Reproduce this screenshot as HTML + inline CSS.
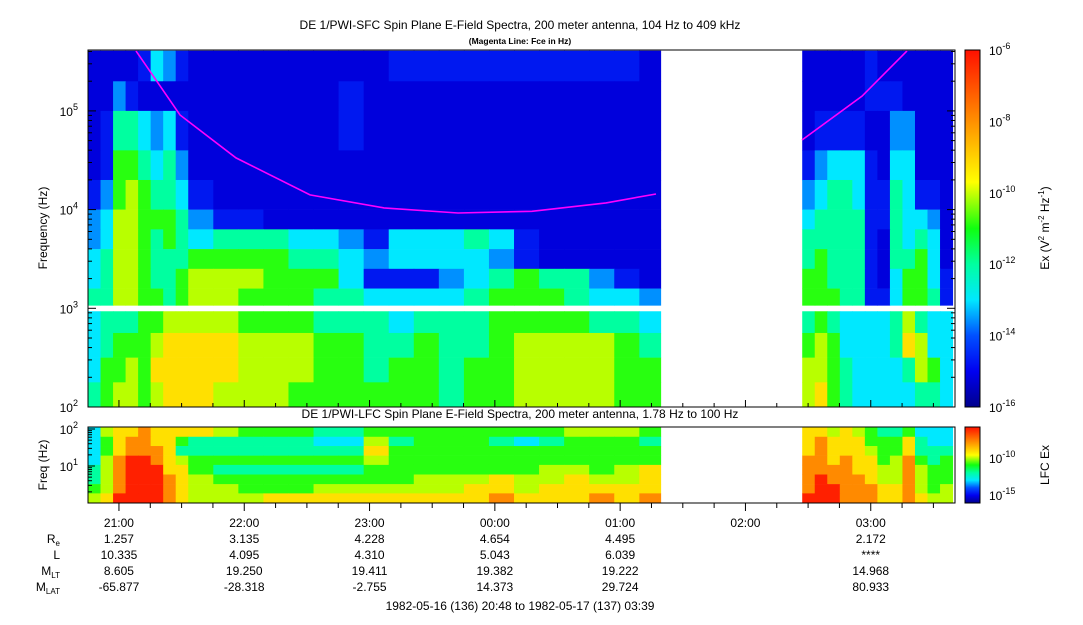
<!DOCTYPE html>
<html><head><meta charset="utf-8"><style>
html,body{margin:0;padding:0;background:#fff;}
body{width:1083px;height:620px;overflow:hidden;font-family:"Liberation Sans",sans-serif;}
svg text{font-family:"Liberation Sans",sans-serif;fill:#000;}
</style></head><body>
<svg id="chart" width="1083" height="620" viewBox="0 0 1083 620" xmlns="http://www.w3.org/2000/svg">
<defs>
<linearGradient id="cbTop" x1="0" y1="1" x2="0" y2="0">
<stop offset="0" stop-color="#00008c"/><stop offset="0.1" stop-color="#0000f0"/><stop offset="0.2" stop-color="#0050ff"/>
<stop offset="0.3" stop-color="#00e8ff"/><stop offset="0.4" stop-color="#00ffa0"/><stop offset="0.5" stop-color="#10ff10"/>
<stop offset="0.63" stop-color="#ffff00"/><stop offset="0.8" stop-color="#ff9000"/><stop offset="1" stop-color="#ff1000"/>
</linearGradient>
</defs>
<g id="sfc"></g>
<g id="lfc"></g>
<g id="axes"></g>
<text x="520" y="29" font-size="12" text-anchor="middle">DE 1/PWI-SFC  Spin Plane E-Field Spectra, 200 meter antenna, 104 Hz to 409 kHz</text>
<text x="520" y="44" font-size="8.5" font-weight="bold" text-anchor="middle">(Magenta Line: Fce in Hz)</text>
<text x="520" y="418" font-size="12" text-anchor="middle">DE 1/PWI-LFC  Spin Plane E-Field Spectra, 200 meter antenna, 1.78 Hz to 100 Hz</text>
<text transform="translate(47,228) rotate(-90)" font-size="12" text-anchor="middle">Frequency (Hz)</text>
<text transform="translate(47,465) rotate(-90)" font-size="12" text-anchor="middle">Freq (Hz)</text>
<text transform="translate(1049,228) rotate(-90)" font-size="12" text-anchor="middle">Ex (V<tspan dy="-5" font-size="8">2</tspan><tspan dy="5"> m</tspan><tspan dy="-5" font-size="8">-2</tspan><tspan dy="5"> Hz</tspan><tspan dy="-5" font-size="8">-1</tspan><tspan dy="5">)</tspan></text>
<text transform="translate(1049,465) rotate(-90)" font-size="12" text-anchor="middle">LFC Ex</text>
<rect x="965" y="50" width="15" height="357" fill="url(#cbTop)" stroke="#000" stroke-width="1"/>
<rect x="965" y="427" width="15" height="76" fill="url(#cbTop)" stroke="#000" stroke-width="1"/>
<g id="ephem"></g>
<text x="520" y="610" font-size="12" text-anchor="middle">1982-05-16 (136) 20:48 to 1982-05-17 (137) 03:39</text>
</svg>
<script>
// ---- data ----
const timeEdges = [0,0.1,0.2,0.3,0.4,0.5,0.6,0.7,0.8,1.0,1.2,1.4,1.6,1.8,2.0,2.2,2.4,2.6,2.8,3.0,3.2,3.4,3.6,3.8,4.0,4.2,4.4,4.57,5.7,5.8,5.9,6.0,6.1,6.2,6.3,6.4,6.5,6.6,6.7,6.8,6.9];
const sfcRowTop    = [5.61,5.3,5.0,4.6,4.3,4.0,3.8,3.6,3.4,3.2,2.97,2.75,2.5,2.25];
const sfcRowBottom = [5.3,5.0,4.6,4.3,4.0,3.8,3.6,3.4,3.2,3.03,2.75,2.5,2.25,2.0];
const sfcLevels = [
 "111124321111111122222222221"+"x"+"111112111111",
 "113211111111112111111111111"+"x"+"111112221111",
 "125543421111112111111111111"+"x"+"122221133111",
 "126654531111111111111111111"+"x"+"234442144111",
 "236765542111111111111111111"+"x"+"345542254221",
 "347766653221111111111111111"+"x"+"455552254431",
 "347765654555443244454211111"+"x"+"555552154541",
 "457765556666554344443211111"+"x"+"565552155641",
 "457765567776664222345655321"+"x"+"665552146642",
 "557766567766655444456665443"+"x"+"666552246652",
 "455566777766655545556666554"+"x"+"565444457544",
 "456667888877766556556777765"+"x"+"676444458744",
 "466768888877766566566777766"+"x"+"776544445764",
 "567767888777666666566777766"+"x"+"786544444554"
];
const lfcEdges = [2.05,1.79,1.54,1.28,1.03,0.77,0.51,0.26,0.0];
const lfcLevels = [
 "478898888766655666666667776"+"x"+"887876556444",
 "468998865555544756665456665"+"x"+"898886668544",
 "468999855555555866666666666"+"x"+"898887668555",
 "479aa9876666666766666666666"+"x"+"998988679656",
 "579aaa886555555666666677678"+"x"+"999988779766",
 "579aaa987666666667778778778"+"x"+"9a9998779766",
 "679aaa987766677777788788888"+"x"+"9aa999889767",
 "78aaaa987778888888889888989"+"x"+"aaa999889877"
];
const fceTimes = [0.383,0.734,1.181,1.772,2.362,2.953,3.543,4.134,4.533];
const fceHz    = [405000,90800,33400,14100,10400,9240,9600,11700,14400];
const fceTimes2 = [5.698,6.177,6.536];
const fceHz2    = [50700,141000,405000];
const hourLabels = ["21:00","22:00","23:00","00:00","01:00","02:00","03:00"];
const hourTimes  = [0.247,1.247,2.247,3.247,4.247,5.247,6.247];
const ephRe   = ["1.257","3.135","4.228","4.654","4.495","","2.172"];
const ephL    = ["10.335","4.095","4.310","5.043","6.039","","****"];
const ephMLT  = ["8.605","19.250","19.411","19.382","19.222","","14.968"];
const ephMLAT = ["-65.877","-28.318","-2.755","14.373","29.724","","80.933"];
const palette = ["#00008c","#0000dc","#0018f0","#0090ff","#00e8ff","#00ffa0","#28ff10","#b8ff00","#ffe000","#ff8a00","#ff2000"];

// ---- scales ----
const X0=88, PXH=125.3;
const xOf = h => X0 + h*PXH;
const ySfc = lf => 407 - (lf-2)*98.7;
const yLfc = lf => 466 - (lf-1)*37;
const NS="http://www.w3.org/2000/svg";
function mk(tag, attrs, parent){const e=document.createElementNS(NS,tag);for(const k in attrs)e.setAttribute(k,attrs[k]);parent.appendChild(e);return e;}

const sfc=document.getElementById('sfc');
sfcLevels.forEach((row,r)=>{
  for(let c=0;c<row.length;c++){
    const ch=row[c]; if(ch==='x') continue;
    const lv=parseInt(ch,16);
    const x1=xOf(timeEdges[c]), x2=xOf(timeEdges[c+1]);
    const y1=ySfc(sfcRowTop[r]), y2=ySfc(sfcRowBottom[r]);
    const el=mk('rect',{x:x1,y:y1,width:x2-x1+0.5,height:y2-y1+0.3,fill:palette[lv]},sfc);
    
    
  }
});
const lfc=document.getElementById('lfc');
lfcLevels.forEach((row,r)=>{
  for(let c=0;c<row.length;c++){
    const ch=row[c]; if(ch==='x') continue;
    const lv=parseInt(ch,16);
    const x1=xOf(timeEdges[c]), x2=xOf(timeEdges[c+1]);
    const y1=yLfc(lfcEdges[r]), y2=yLfc(lfcEdges[r+1]);
    const el=mk('rect',{x:x1,y:y1,width:x2-x1+0.5,height:y2-y1+0.3,fill:palette[lv]},lfc);
    
    
  }
});
function fcePath(ts,hz){return ts.map((t,i)=>(i?'L':'M')+xOf(t).toFixed(1)+','+ySfc(Math.log10(hz[i])).toFixed(1)).join(' ');}
const f1=mk('path',{d:fcePath(fceTimes,fceHz),fill:'none',stroke:'#ff00ff','stroke-width':1.6},sfc);


const f2=mk('path',{d:fcePath(fceTimes2,fceHz2),fill:'none',stroke:'#ff00ff','stroke-width':1.6},sfc);



const ax=document.getElementById('axes');
mk('rect',{x:88,y:50,width:867,height:357,fill:'none',stroke:'#000','stroke-width':1},ax);
mk('rect',{x:88,y:427,width:867,height:76,fill:'none',stroke:'#000','stroke-width':1},ax);
for(let d=2;d<=5;d++){
  for(let m=1;m<10;m++){
    const lf=d+Math.log10(m); if(lf>5.61) break;
    const y=ySfc(lf);
    mk('line',{x1:88,x2:88+(m===1?8:4),y1:y,y2:y,stroke:'#000'},ax);
    mk('line',{x1:955,x2:955-(m===1?8:4),y1:y,y2:y,stroke:'#000'},ax);
  }
  const t=mk('text',{x:78,y:ySfc(d)+5,'font-size':12,'text-anchor':'end'},ax);
  t.innerHTML='10<tspan dy="-6" font-size="9">'+d+'</tspan>';
  
  
}
for(let d=0;d<=2;d++){
  for(let m=1;m<10;m++){
    const lf=d+Math.log10(m); if(lf>2.05) break;
    const y=yLfc(lf);
    mk('line',{x1:88,x2:88+(m===1?7:4),y1:y,y2:y,stroke:'#000'},ax);
  }
}
[[1,'1'],[2,'2']].forEach(([d,s])=>{
  const t=mk('text',{x:78,y:yLfc(d)+5,'font-size':12,'text-anchor':'end'},ax);
  t.innerHTML='10<tspan dy="-6" font-size="9">'+s+'</tspan>';
  
  
});
for(let q=0;q<30;q++){
  const h=q*0.25-0.003; const x=xOf(h); const major=(q%4===1);
  if(x>955||x<88) continue;
  mk('line',{x1:x,x2:x,y1:503,y2:503+(major?8:5),stroke:'#000'},ax);
  mk('line',{x1:x,x2:x,y1:407,y2:407-(major?7:4),stroke:'#000'},ax);
}
hourTimes.forEach((h,i)=>{
  const t=mk('text',{x:xOf(h),y:527,'font-size':12,'text-anchor':'middle'},ax);
  t.textContent=hourLabels[i];
  
  
});
for(let p=-16;p<=-6;p++){
  const y=407-(p+16)*35.7;
  mk('line',{x1:980,x2:980-(p%2===0?6:3),y1:y,y2:y,stroke:'#000'},ax);
  if(p%2===0){
    const t=mk('text',{x:989,y:y+5,'font-size':12},ax);
    t.innerHTML='10<tspan dy="-6" font-size="9">'+p+'</tspan>';
    
    
  }
}
[[-10,458],[-15,495]].forEach(([p,y])=>{
  const t=mk('text',{x:989,y:y+5,'font-size':12},ax);
  t.innerHTML='10<tspan dy="-6" font-size="9">'+p+'</tspan>';
  
  
});
for(let y=433;y<503;y+=7.4) mk('line',{x1:980,x2:976,y1:y,y2:y,stroke:'#000'},ax);
const ep=document.getElementById('ephem');
const rows=[['R','e',ephRe,543],['L','',ephL,559],['M','LT',ephMLT,575],['M','LAT',ephMLAT,591]];
rows.forEach(([a,s,vals,y])=>{
  const lab=mk('text',{x:60,y:y,'font-size':12,'text-anchor':'end'},ep);
  lab.innerHTML=a+(s?'<tspan dy="3" font-size="8">'+s+'</tspan>':'');
  
  
  vals.forEach((v,i)=>{
    const t=mk('text',{x:xOf(hourTimes[i]),y:y,'font-size':12,'text-anchor':'middle'},ep);
    t.textContent=v;
    
    
  });
});
</script>
</body></html>
